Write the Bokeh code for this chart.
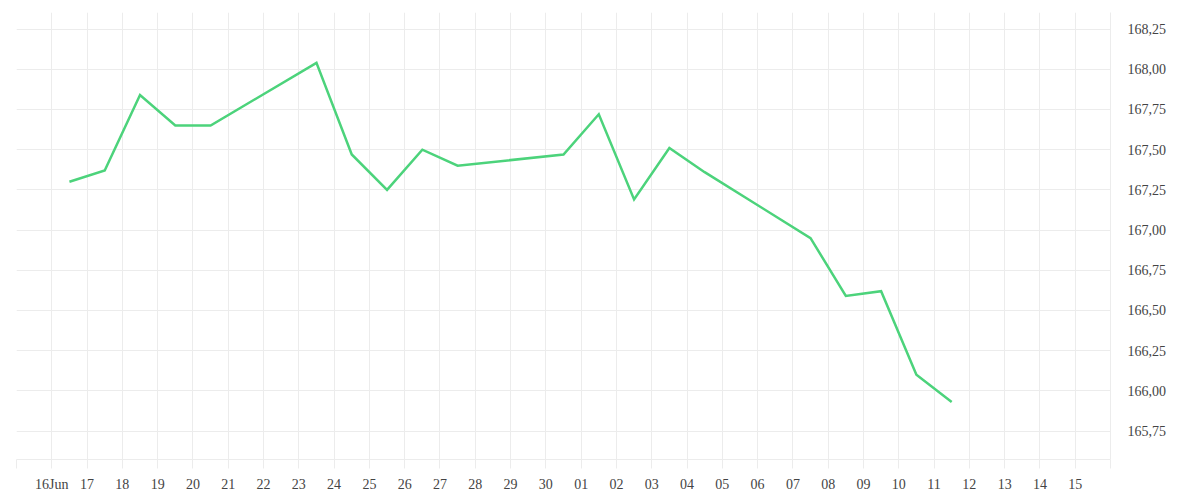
from datetime import datetime, timedelta
from bokeh.plotting import figure
from bokeh.models import (ColumnDataSource, Range1d, LinearAxis, FixedTicker,
                          CustomJSTickFormatter)
from bokeh.embed import file_html
from bokeh.resources import INLINE

# ---- data ----
dates = ["2025-06-16", "2025-06-17", "2025-06-18", "2025-06-19", "2025-06-20",
         "2025-06-23", "2025-06-24", "2025-06-25", "2025-06-26", "2025-06-27",
         "2025-06-30", "2025-07-01", "2025-07-02", "2025-07-03", "2025-07-04",
         "2025-07-07", "2025-07-08", "2025-07-09", "2025-07-10", "2025-07-11"]
values = [167.30, 167.37, 167.84, 167.65, 167.65,
          168.04, 167.47, 167.25, 167.50, 167.40,
          167.47, 167.72, 167.19, 167.51, 167.36,
          166.95, 166.59, 166.62, 166.10, 165.93]
tick_days = ["2025-06-15"] + [f"2025-06-{d:02d}" for d in range(16, 31)] + \
            [f"2025-07-{d:02d}" for d in range(1, 17)]
tick_labels = [""] + ["16Jun"] + [f"{d:02d}" for d in range(17, 31)] + \
              [f"{d:02d}" for d in range(1, 16)] + [""]
y_ticks = [165.75, 166.00, 166.25, 166.50, 166.75, 167.00,
           167.25, 167.50, 167.75, 168.00, 168.25]

EPOCH = datetime(1970, 1, 1)


def to_ms(s, hours=0):
    d = datetime.strptime(s, "%Y-%m-%d") + timedelta(hours=hours)
    return (d - EPOCH).total_seconds() * 1000.0


xs = [to_ms(d, 12) for d in dates]
tick_ms = [to_ms(d) for d in tick_days]

src = ColumnDataSource(dict(x=xs, y=values))

FONT = "Liberation Serif"
GRID = "#ececec"
TEXT = "#444444"

p = figure(width=1184, height=489, frame_width=1094, frame_height=447,
           output_backend="svg", toolbar_location=None,
           x_axis_location=None, y_axis_location=None,
           min_border_left=16, min_border_top=12, min_border_right=74,
           min_border_bottom=30)
p.x_range = Range1d(tick_ms[0], tick_ms[-1])
p.y_range = Range1d(165.573, 168.353)
p.outline_line_color = None
p.background_fill_color = "white"
p.border_fill_color = "white"

xaxis = LinearAxis(ticker=FixedTicker(ticks=tick_ms))
xaxis.formatter = CustomJSTickFormatter(args=dict(tvals=tick_ms, tlabels=tick_labels), code="""
    let best = -1, bd = Infinity;
    for (let i = 0; i < tvals.length; i++) {
        const d = Math.abs(tvals[i] - tick);
        if (d < bd) { bd = d; best = i; }
    }
    return (best >= 0 && bd < 1000) ? tlabels[best] : '';
""")
xaxis.axis_line_color = GRID
xaxis.major_tick_line_color = GRID
xaxis.major_tick_out = 9
xaxis.major_tick_in = 0
xaxis.minor_tick_line_color = None
xaxis.major_label_standoff = 8
xaxis.major_label_text_font = FONT
xaxis.major_label_text_font_size = "14px"
xaxis.major_label_text_color = TEXT
p.add_layout(xaxis, "below")

yaxis = LinearAxis(ticker=FixedTicker(ticks=y_ticks))
yaxis.formatter = CustomJSTickFormatter(code="return tick.toFixed(2).replace('.', ',');")
yaxis.axis_line_color = GRID
yaxis.major_tick_line_color = None
yaxis.major_tick_out = 0
yaxis.major_tick_in = 0
yaxis.minor_tick_line_color = None
yaxis.major_label_standoff = 17
yaxis.major_label_text_font = FONT
yaxis.major_label_text_font_size = "14px"
yaxis.major_label_text_color = TEXT
p.add_layout(yaxis, "right")

p.xgrid.ticker = xaxis.ticker
p.ygrid.ticker = yaxis.ticker
p.xgrid.grid_line_color = GRID
p.ygrid.grid_line_color = GRID
p.xgrid.grid_line_width = 1
p.ygrid.grid_line_width = 1

p.line("x", "y", source=src, line_color="#4cd37b", line_width=2.5,
       line_join="miter")

open("out.html", "w").write(file_html(p, INLINE))
